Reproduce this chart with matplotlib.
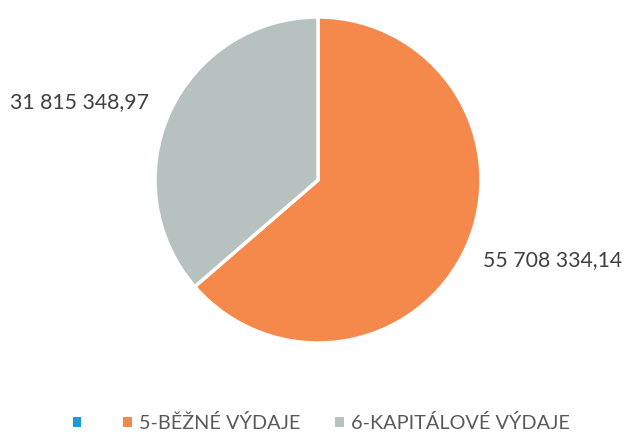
import matplotlib.pyplot as plt
from matplotlib.patches import Patch

categories = ['', '5-BĚŽNÉ VÝDAJE', '6-KAPITÁLOVÉ VÝDAJE']
values = [0.0, 55708334.14, 31815348.97]
colors = ['#1E9BD7', '#F5894C', '#B6C1C0']
label_pos = [None, (1.44, -0.49), (-1.466, 0.48)]


def fmt(v):
    s = f"{v:,.2f}"
    return s.replace(',', ' ').replace('.', ',')


plt.rcParams['font.family'] = ['Lato', 'DejaVu Sans']

fig = plt.figure(figsize=(6.25, 4.32), dpi=100)
ax = fig.add_axes([(318 - 163) / 625, (432 - 343) / 432, 326 / 625, 326 / 432])

wedges, _ = ax.pie(values, colors=colors, startangle=90, counterclock=False,
                   radius=1, wedgeprops=dict(edgecolor='white', linewidth=2.5))
ax.set_xlim(-1, 1)
ax.set_ylim(-1, 1)
ax.set_aspect('equal')
ax.axis('off')

for v, pos in zip(values, label_pos):
    if pos is None:
        continue
    ax.text(pos[0], pos[1], fmt(v), ha='center', va='center',
            fontsize=15.3, color='#404040', clip_on=False)

handles = [Patch(facecolor=c, edgecolor='none') for c in colors]
fig.legend(handles, categories, loc='center', bbox_to_anchor=(0.514, 0.021),
           ncol=3, frameon=False, fontsize=14.3, labelcolor='#595959',
           handlelength=0.45, handleheight=0.45, handletextpad=0.35,
           columnspacing=1.75, borderpad=0.1)

fig.savefig('out.png', dpi=100, facecolor='white')
